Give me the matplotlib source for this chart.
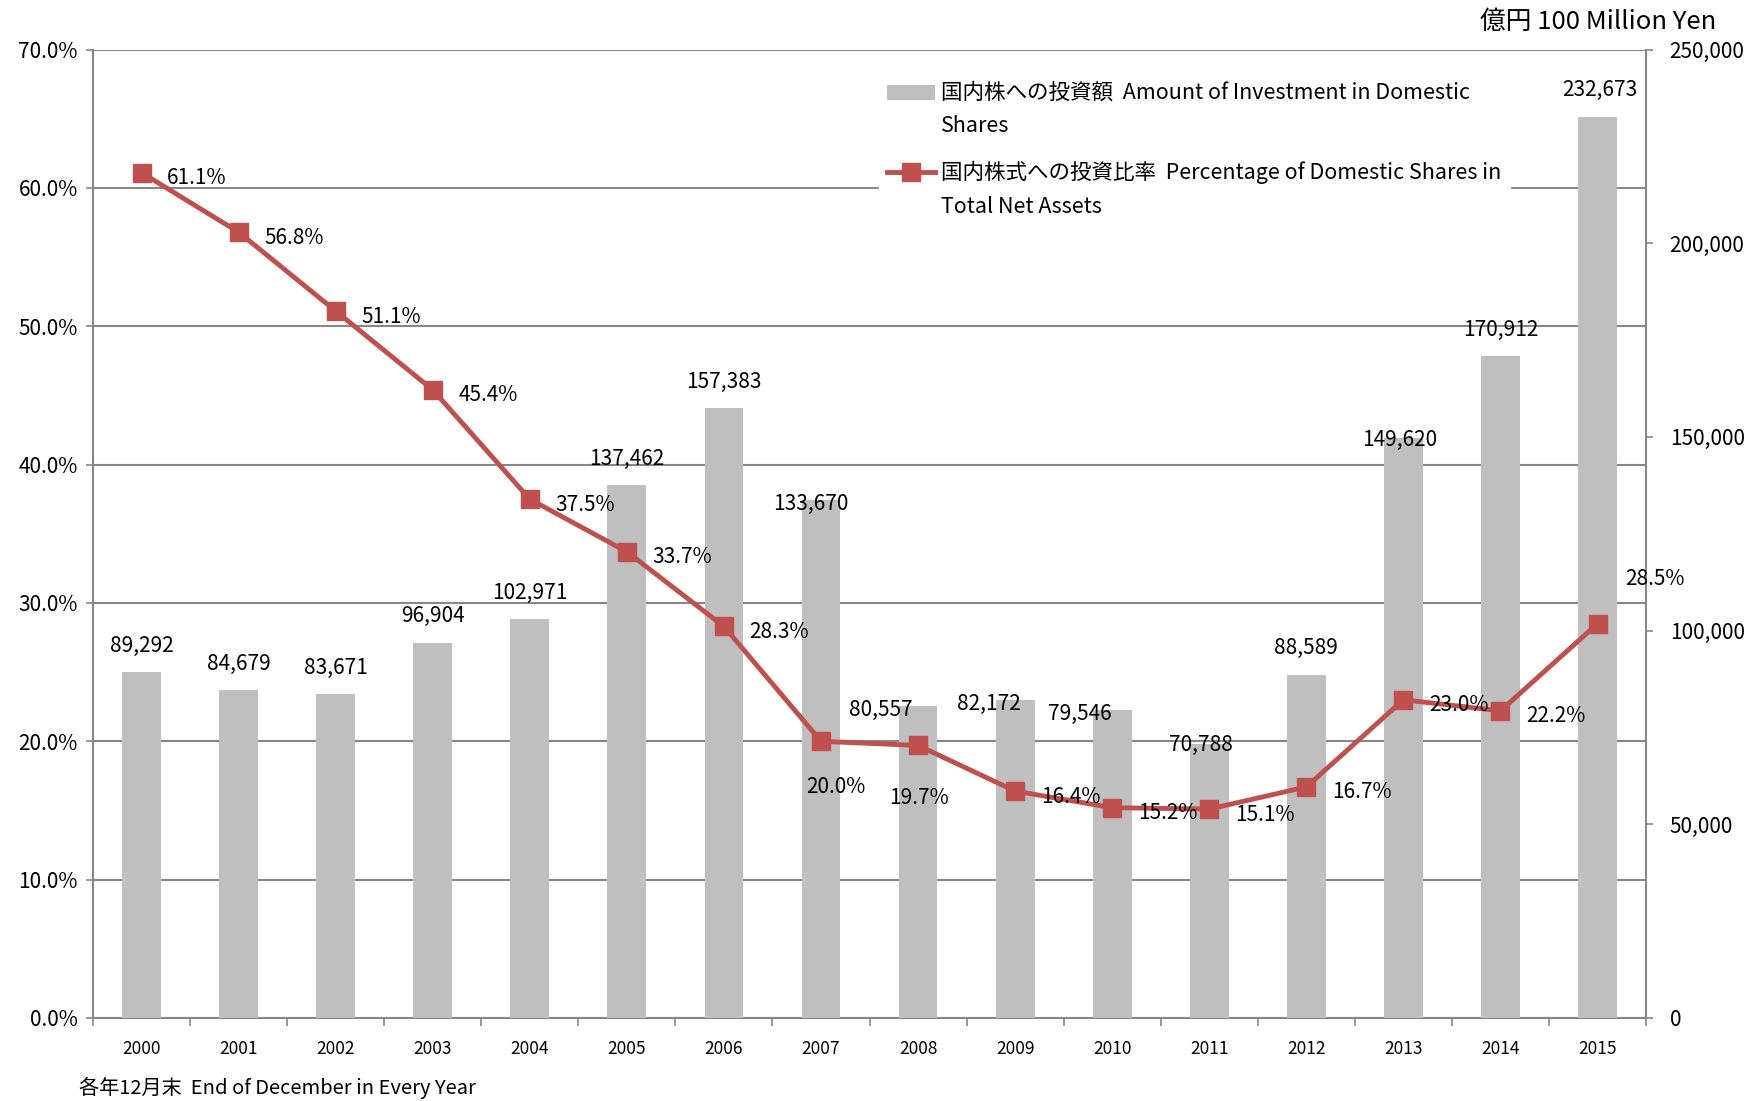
import matplotlib
matplotlib.use('Agg')
import matplotlib.pyplot as plt
from matplotlib.lines import Line2D
from matplotlib.patches import Patch
from matplotlib.legend_handler import HandlerPatch, HandlerLine2D
from matplotlib.ticker import FuncFormatter, MultipleLocator, FixedLocator
import numpy as np

plt.rcParams['font.family'] = ['Noto Sans CJK JP', 'DejaVu Sans']

# data
years = ['2000', '2001', '2002', '2003', '2004', '2005', '2006', '2007',
         '2008', '2009', '2010', '2011', '2012', '2013', '2014', '2015']
amounts = [89292, 84679, 83671, 96904, 102971, 137462, 157383, 133670,
           80557, 82172, 79546, 70788, 88589, 149620, 170912, 232673]
ratios = [61.1, 56.8, 51.1, 45.4, 37.5, 33.7, 28.3, 20.0,
          19.7, 16.4, 15.2, 15.1, 16.7, 23.0, 22.2, 28.5]

bar_label = '国内株への投資額  Amount of Investment in Domestic\nShares'
line_label = '国内株式への投資比率  Percentage of Domestic Shares in\nTotal Net Assets'

# label nudges (points) to follow the original placement
bar_nudge = {7: (-7, -22), 8: (-27, -22), 9: (-19, -22), 10: (-23, -22),
             11: (-6, -20), 13: (-3, -20), 15: (2, 0)}
line_nudge = {7: (11, -33), 8: (1, -38), 15: (41, 32)}

GRAY = '#878787'
BAR = '#BFBFBF'
RED = '#C0504D'
SHIFT = 13  # legend handles sit on the first text line


class UpPatch(HandlerPatch):
    def create_artists(self, legend, orig_handle, xdescent, ydescent, width, height,
                       fontsize, trans):
        return super().create_artists(legend, orig_handle, xdescent, ydescent - SHIFT,
                                      width, height, fontsize, trans)


class UpLine(HandlerLine2D):
    def create_artists(self, legend, orig_handle, xdescent, ydescent, width, height,
                       fontsize, trans):
        return super().create_artists(legend, orig_handle, xdescent, ydescent - 2 * SHIFT,
                                      width, height, fontsize, trans)


fig = plt.figure(figsize=(17.62, 11.01), dpi=100)
ax = fig.add_axes([0.0528, 0.0754, 0.8814, 0.8796])
ax2 = ax.twinx()
ax3 = ax.twinx()

x = np.arange(len(years))

# left axis: percentage grid
ax.set_ylim(0, 70)
ax.set_xlim(-0.5, len(years) - 0.5)
ax.yaxis.set_major_locator(MultipleLocator(10))
ax.yaxis.set_major_formatter(FuncFormatter(lambda v, p: f'{v:.1f}%'))
ax.grid(axis='y', color=GRAY, linewidth=1.5)
ax.set_axisbelow(True)
ax.tick_params(axis='y', labelsize=15, length=5, width=1.2, color=GRAY, pad=6)
ax.set_xticks(x)
ax.set_xticklabels(years)
ax.xaxis.set_minor_locator(FixedLocator(np.arange(len(years) + 1) - 0.5))
ax.tick_params(axis='x', which='major', length=0, labelsize=12.5, pad=16)
ax.tick_params(axis='x', which='minor', length=6, width=1.2, color=GRAY)
for s in ['left', 'right', 'bottom']:
    ax.spines[s].set_color(GRAY)
    ax.spines[s].set_linewidth(1.5)
ax.spines['top'].set_visible(False)

# right axis: amounts as bars
ax2.bar(x, amounts, width=0.4, color=BAR, zorder=2)
ax2.set_ylim(0, 250000)
ax2.yaxis.set_major_locator(MultipleLocator(50000))
ax2.yaxis.set_major_formatter(FuncFormatter(lambda v, p: f'{int(v):,}'))
ax2.tick_params(axis='y', labelsize=15, length=5, width=1.2, color=GRAY, pad=12)
for s in ['left', 'right', 'bottom', 'top']:
    ax2.spines[s].set_visible(False)
for i, v in enumerate(amounts):
    dx, dy = bar_nudge.get(i, (0, 0))
    ax2.annotate(f'{v:,}', (x[i], v), xytext=(dx, 19 + dy), textcoords='offset points',
                 ha='center', va='center', fontsize=15)

# line on top
ax3.set_ylim(0, 70)
ax3.plot(x, ratios, color=RED, linewidth=3.5, marker='s', markersize=13, zorder=3)
ax3.axis('off')
ax3.set_xlim(ax.get_xlim())
for i, v in enumerate(ratios):
    dx, dy = line_nudge.get(i, (40, -4))
    ax3.annotate(f'{v:.1f}%', (x[i], v), xytext=(dx, dy), textcoords='offset points',
                 ha='center', va='center', fontsize=15)

bar_handle = Patch(facecolor=BAR, edgecolor='none')
line_handle = Line2D([0], [0], color=RED, linewidth=3.5, marker='s', markersize=13)
leg = ax3.legend([bar_handle, line_handle], [bar_label, line_label], loc='upper left',
                 bbox_to_anchor=(0.4926, 0.9437), bbox_transform=fig.transFigure,
                 frameon=True, fancybox=False, edgecolor='white', facecolor='white',
                 framealpha=1, fontsize=15.5, handlelength=2.2, handletextpad=0.3,
                 labelspacing=1.1, borderpad=0.4,
                 handler_map={bar_handle: UpPatch(), line_handle: UpLine()})
for t in leg.get_texts():
    t.set_linespacing(1.7)

fig.text(0.9739, 0.980, '億円 100 Million Yen', ha='right', va='center', fontsize=18.5)
fig.text(0.045, 0.012, '各年12月末  End of December in Every Year', ha='left',
         va='center', fontsize=14.5)

fig.savefig('out.png', dpi=100)
